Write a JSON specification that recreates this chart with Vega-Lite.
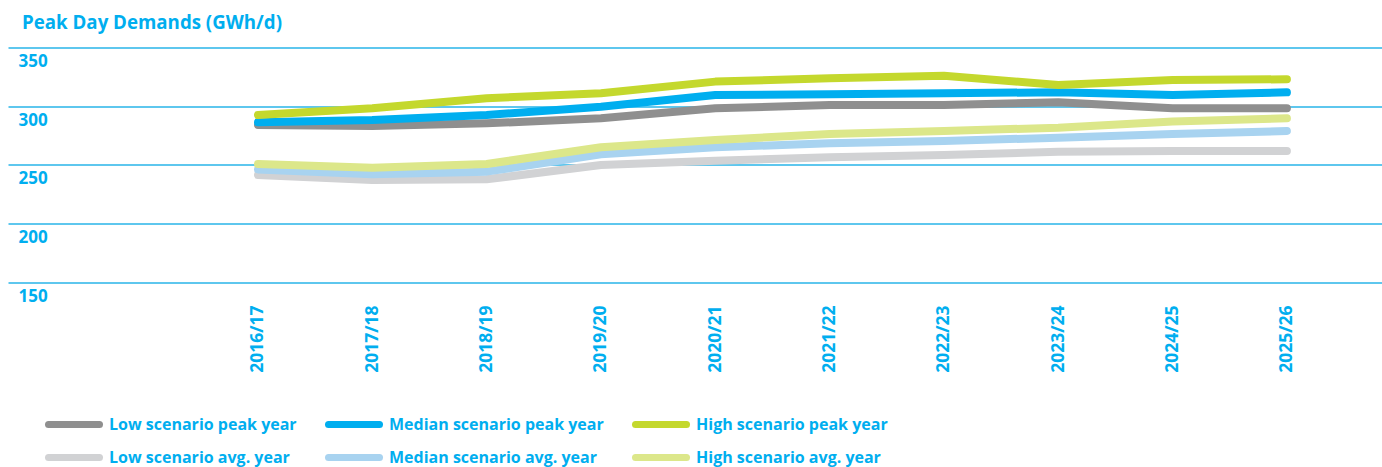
{
  "$schema": "https://vega.github.io/schema/vega-lite/v6.json",
  "width": 1374,
  "height": 234.5,
  "autosize": {"type": "none"},
  "padding": {"left": 8, "top": 47.5, "right": 0, "bottom": 185},
  "background": "white",
  "title": {
    "text": "Peak Day Demands (GWh/d)",
    "anchor": "start",
    "frame": "group",
    "dx": 14,
    "offset": 15,
    "font": "Open Sans",
    "fontSize": 18.7,
    "fontWeight": "bold",
    "color": "#00aeef"
  },
  "config": {
    "view": {"stroke": null},
    "font": "Open Sans",
    "legend": {
      "title": null,
      "orient": "none",
      "direction": "horizontal",
      "columns": 3,
      "symbolType": "stroke",
      "symbolSize": 2601,
      "symbolStrokeWidth": 7,
      "labelOffset": 6,
      "labelFont": "Open Sans",
      "labelFontSize": 16,
      "labelFontWeight": "bold",
      "labelColor": "#00aeef",
      "labelLimit": 400
    }
  },
  "data": {
    "values": [
      {"year": "2016/17", "series": "Low scenario avg. year", "value": 241.3},
      {"year": "2017/18", "series": "Low scenario avg. year", "value": 237},
      {"year": "2018/19", "series": "Low scenario avg. year", "value": 237.6},
      {"year": "2019/20", "series": "Low scenario avg. year", "value": 249.8},
      {"year": "2020/21", "series": "Low scenario avg. year", "value": 253.5},
      {"year": "2021/22", "series": "Low scenario avg. year", "value": 256.4},
      {"year": "2022/23", "series": "Low scenario avg. year", "value": 258.3},
      {"year": "2023/24", "series": "Low scenario avg. year", "value": 261.1},
      {"year": "2024/25", "series": "Low scenario avg. year", "value": 261.7},
      {"year": "2025/26", "series": "Low scenario avg. year", "value": 261.7},
      {"year": "2016/17", "series": "Median scenario avg. year", "value": 246},
      {"year": "2017/18", "series": "Median scenario avg. year", "value": 241.9},
      {"year": "2018/19", "series": "Median scenario avg. year", "value": 244.1},
      {"year": "2019/20", "series": "Median scenario avg. year", "value": 258.9},
      {"year": "2020/21", "series": "Median scenario avg. year", "value": 264.9},
      {"year": "2021/22", "series": "Median scenario avg. year", "value": 268.3},
      {"year": "2022/23", "series": "Median scenario avg. year", "value": 270.3},
      {"year": "2023/24", "series": "Median scenario avg. year", "value": 273.1},
      {"year": "2024/25", "series": "Median scenario avg. year", "value": 276.2},
      {"year": "2025/26", "series": "Median scenario avg. year", "value": 278.8},
      {"year": "2016/17", "series": "High scenario avg. year", "value": 250.6},
      {"year": "2017/18", "series": "High scenario avg. year", "value": 247.5},
      {"year": "2018/19", "series": "High scenario avg. year", "value": 250.6},
      {"year": "2019/20", "series": "High scenario avg. year", "value": 264.9},
      {"year": "2020/21", "series": "High scenario avg. year", "value": 271.1},
      {"year": "2021/22", "series": "High scenario avg. year", "value": 276.2},
      {"year": "2022/23", "series": "High scenario avg. year", "value": 278.8},
      {"year": "2023/24", "series": "High scenario avg. year", "value": 281.6},
      {"year": "2024/25", "series": "High scenario avg. year", "value": 286.8},
      {"year": "2025/26", "series": "High scenario avg. year", "value": 289.6},
      {"year": "2016/17", "series": "Low scenario peak year", "value": 284},
      {"year": "2017/18", "series": "Low scenario peak year", "value": 283},
      {"year": "2018/19", "series": "Low scenario peak year", "value": 285.3},
      {"year": "2019/20", "series": "Low scenario peak year", "value": 289.6},
      {"year": "2020/21", "series": "Low scenario peak year", "value": 298.1},
      {"year": "2021/22", "series": "Low scenario peak year", "value": 301},
      {"year": "2022/23", "series": "Low scenario peak year", "value": 301},
      {"year": "2023/24", "series": "Low scenario peak year", "value": 303.3},
      {"year": "2024/25", "series": "Low scenario peak year", "value": 298.1},
      {"year": "2025/26", "series": "Low scenario peak year", "value": 298.1},
      {"year": "2016/17", "series": "Median scenario peak year", "value": 286.2},
      {"year": "2017/18", "series": "Median scenario peak year", "value": 288.2},
      {"year": "2018/19", "series": "Median scenario peak year", "value": 292.4},
      {"year": "2019/20", "series": "Median scenario peak year", "value": 299.5},
      {"year": "2020/21", "series": "Median scenario peak year", "value": 309.5},
      {"year": "2021/22", "series": "Median scenario peak year", "value": 310.1},
      {"year": "2022/23", "series": "Median scenario peak year", "value": 311},
      {"year": "2023/24", "series": "Median scenario peak year", "value": 311.8},
      {"year": "2024/25", "series": "Median scenario peak year", "value": 309.5},
      {"year": "2025/26", "series": "Median scenario peak year", "value": 311.8},
      {"year": "2016/17", "series": "High scenario peak year", "value": 292.4},
      {"year": "2017/18", "series": "High scenario peak year", "value": 298.1},
      {"year": "2018/19", "series": "High scenario peak year", "value": 306.7},
      {"year": "2019/20", "series": "High scenario peak year", "value": 311},
      {"year": "2020/21", "series": "High scenario peak year", "value": 320.9},
      {"year": "2021/22", "series": "High scenario peak year", "value": 323.7},
      {"year": "2022/23", "series": "High scenario peak year", "value": 326},
      {"year": "2023/24", "series": "High scenario peak year", "value": 318},
      {"year": "2024/25", "series": "High scenario peak year", "value": 322.3},
      {"year": "2025/26", "series": "High scenario peak year", "value": 322.9}
    ]
  },
  "encoding": {
    "x": {
      "field": "year",
      "type": "ordinal",
      "scale": {
        "type": "point",
        "domain": ["_pad1", "_pad2", "2016/17", "2017/18", "2018/19", "2019/20", "2020/21", "2021/22", "2022/23", "2023/24", "2024/25", "2025/26"],
        "padding": 0.509,
        "align": 0.183
      },
      "axis": {
        "title": null,
        "values": ["2016/17", "2017/18", "2018/19", "2019/20", "2020/21", "2021/22", "2022/23", "2023/24", "2024/25", "2025/26"],
        "domain": false,
        "ticks": false,
        "grid": false,
        "labelAngle": -90,
        "labelPadding": 23,
        "labelFont": "Open Sans",
        "labelFontSize": 17.5,
        "labelFontWeight": "bold",
        "labelColor": "#00aeef"
      }
    },
    "y": {
      "field": "value",
      "type": "quantitative",
      "scale": {"domain": [150, 350], "nice": false, "zero": false},
      "axis": {
        "title": null,
        "values": [150, 200, 250, 300, 350],
        "domain": false,
        "ticks": false,
        "grid": true,
        "gridColor": "#29b4e9",
        "gridWidth": 1.5,
        "labelAlign": "left",
        "labelBaseline": "top",
        "labelPadding": -10,
        "labelOffset": 6,
        "labelFont": "Open Sans",
        "labelFontSize": 17,
        "labelFontWeight": "bold",
        "labelColor": "#00aeef"
      }
    }
  },
  "layer": [
    {
      "transform": [{"filter": "indexof(datum.series, 'avg.') >= 0"}],
      "mark": {"type": "line", "strokeWidth": 8, "strokeCap": "round", "strokeJoin": "round"},
      "encoding": {
        "stroke": {
          "field": "series",
          "type": "nominal",
          "scale": {
            "domain": ["Low scenario avg. year", "Median scenario avg. year", "High scenario avg. year"],
            "range": ["#d1d2d4", "#a8d3f0", "#dce78a"]
          },
          "legend": {
            "legendX": 37,
            "legendY": 381,
            "columnPadding": 24,
            "encode": {"symbols": {"update": {"strokeCap": {"value": "round"}}}}
          }
        }
      }
    },
    {
      "transform": [{"filter": "indexof(datum.series, 'peak') >= 0"}],
      "mark": {"type": "line", "strokeWidth": 8, "strokeCap": "round", "strokeJoin": "round"},
      "encoding": {
        "color": {
          "field": "series",
          "type": "nominal",
          "scale": {
            "domain": ["Low scenario peak year", "Median scenario peak year", "High scenario peak year"],
            "range": ["#8f8f8f", "#00aeef", "#c4d82d"]
          },
          "legend": {
            "legendX": 37,
            "legendY": 348,
            "columnPadding": 17,
            "encode": {"symbols": {"update": {"strokeCap": {"value": "round"}}}}
          }
        }
      }
    }
  ]
}
